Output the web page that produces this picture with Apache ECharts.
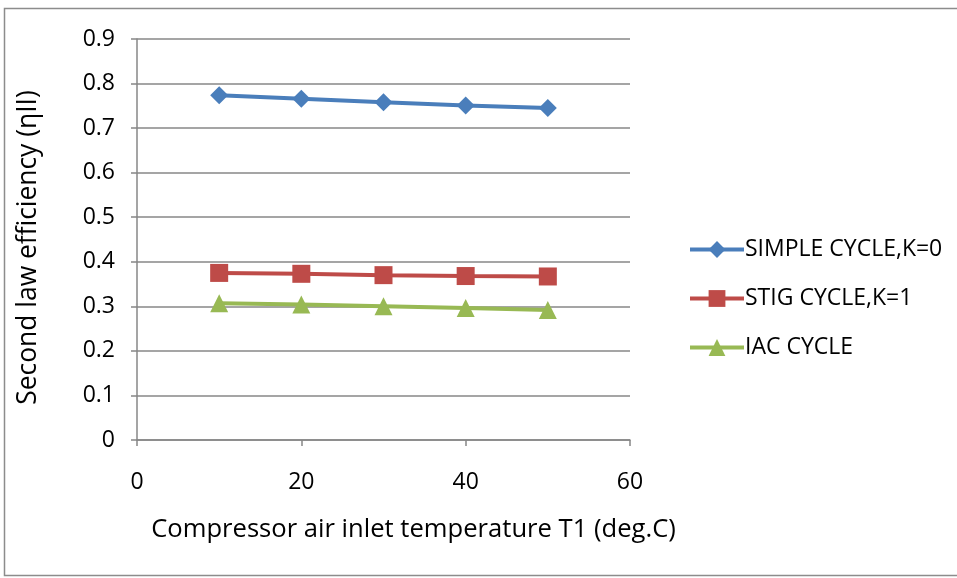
<!DOCTYPE html>
<html>
<head>
<meta charset="utf-8">
<script src="https://cdn.jsdelivr.net/npm/echarts@6/dist/echarts.min.js"></script>
<style>
    html, body { margin: 0; padding: 0; background: #fff; }
    #chart { width: 957px; height: 578px; }
</style>
</head>
<body>
<div id="chart"></div>
<script>
    // 数据
    var temps = [10, 20, 30, 40, 50];
    var simpleCycle = [0.774, 0.766, 0.758, 0.751, 0.745];
    var stigCycle = [0.375, 0.373, 0.370, 0.368, 0.367];
    var iacCycle = [0.307, 0.304, 0.300, 0.296, 0.292];
    var seriesNames = ['SIMPLE CYCLE,K=0', 'STIG CYCLE,K=1', 'IAC CYCLE'];

    var font = 'Open Sans';
    var gridColor = '#878787';

    function pairs(ys) {
        return temps.map(function (t, i) { return [t, ys[i]]; });
    }

    function makeSeries(name, ys, color, symbol, size) {
        return {
            name: name,
            type: 'line',
            data: pairs(ys),
            symbol: symbol,
            symbolSize: size,
            lineStyle: { color: color, width: 4 },
            itemStyle: { color: color },
            emphasis: { disabled: true }
        };
    }

    var myChart = echarts.init(document.getElementById('chart'));

    var option = {
        animation: false,
        graphic: [{
            type: 'rect',
            shape: { x: 4.5, y: 8.5, width: 960, height: 567 },
            style: { fill: 'none', stroke: '#8c8c8c', lineWidth: 1.5 }
        }],
        grid: { left: 137, right: 327, top: 39, bottom: 138 },
        xAxis: {
            type: 'value',
            min: 0,
            max: 60,
            interval: 20,
            name: 'Compressor air inlet temperature T1 (deg.C)',
            nameLocation: 'middle',
            nameGap: 77,
            nameTextStyle: { fontFamily: font, fontSize: 25.6, color: '#000', padding: [0, 0, 0, 60] },
            axisLine: { lineStyle: { color: gridColor, width: 1.5 } },
            axisTick: { show: true, length: 6, lineStyle: { color: gridColor, width: 1.5 } },
            axisLabel: { fontFamily: font, fontSize: 23, color: '#000', margin: 31 },
            splitLine: { show: false }
        },
        yAxis: {
            type: 'value',
            min: 0,
            max: 0.9,
            interval: 0.1,
            name: 'Second law efficiency (ηII)',
            nameLocation: 'middle',
            nameGap: 96,
            nameTextStyle: { fontFamily: font, fontSize: 26.4, color: '#000', padding: [0, 16, 0, 0] },
            axisLine: { show: true, lineStyle: { color: gridColor, width: 1.5 } },
            axisTick: { show: true, length: 6, lineStyle: { color: gridColor, width: 1.5 } },
            axisLabel: { fontFamily: font, fontSize: 23, color: '#000', margin: 22 },
            splitLine: { lineStyle: { color: gridColor, width: 1.5 } }
        },
        legend: {
            orient: 'vertical',
            left: 683,
            top: 233,
            itemWidth: 54,
            itemHeight: 21,
            itemGap: 26,
            lineStyle: { width: 4 },
            textStyle: { fontFamily: font, fontSize: 23, color: '#000', padding: [0, 0, 0, -4] },
            data: seriesNames
        },
        series: [
            makeSeries(seriesNames[0], simpleCycle, '#4a7ebb', 'diamond', 18),
            makeSeries(seriesNames[1], stigCycle, '#be4b48', 'rect', 18),
            makeSeries(seriesNames[2], iacCycle, '#98b954', 'triangle', 18)
        ]
    };

    myChart.setOption(option);
</script>
</body>
</html>
